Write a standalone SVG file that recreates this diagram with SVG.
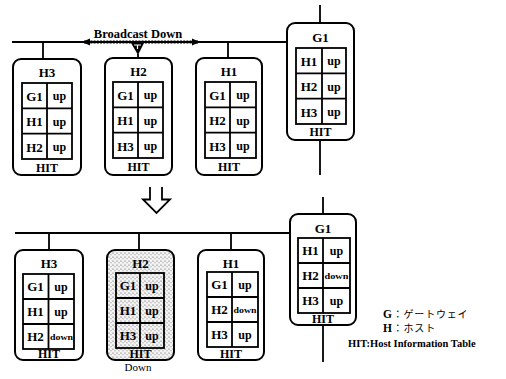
<svg xmlns="http://www.w3.org/2000/svg" width="506" height="379" viewBox="0 0 506 379">
<style>
.box{fill:#fff;stroke:#000;stroke-width:2}
.tbl{fill:none;stroke:#000;stroke-width:1.8}
.ln{fill:none;stroke:#000;stroke-width:1.8}
.t{font-family:"Liberation Serif",serif;font-weight:bold;font-size:13px;text-anchor:middle;fill:#000}
.s{font-family:"Liberation Serif",serif;font-weight:bold;font-size:12px;text-anchor:middle;fill:#000}
.dn{font-family:"Liberation Serif",serif;font-weight:bold;font-size:8.5px;fill:#000}
.lg{font-family:"Liberation Serif","Noto Sans CJK JP",serif;font-size:10px;fill:#000}
</style>
<defs>
<pattern id="dots" width="4" height="4" patternUnits="userSpaceOnUse">
<rect width="4" height="4" fill="#f4f4f4"/>
<circle cx="1" cy="1" r="0.6" fill="#444"/>
<circle cx="3" cy="2.8" r="0.5" fill="#666"/>
</pattern>
</defs>
<rect width="506" height="379" fill="#fff"/>

<g id="connectors">
<path class="ln" d="M12,42 H287"/>
<path class="ln" d="M43,42 V59"/>
<path class="ln" d="M228,42 V58"/>
<path class="ln" d="M320,5 V23 M320,140 V175"/>
<path d="M84,42 H198" stroke="#000" stroke-width="2.8" stroke-dasharray="2 1.2" fill="none"/>
<polygon points="82,42 90,38.5 90,45.5" fill="#000"/>
<polygon points="200,42 192,38.5 192,45.5" fill="#000"/>
<polygon points="131,43 144,43 138,55" fill="#000"/>
<path d="M134,45 H141 M137.5,45 V49" stroke="#fff" stroke-width="1.2"/>
<path class="ln" d="M138,54 V58"/>
<path d="M150,187 V199.5 H143 L156.5,213 L170,199.5 H162 V187" fill="none" stroke="#000" stroke-width="1.8"/>
<path class="ln" d="M15,233 H290"/>
<path class="ln" d="M49,233 V250"/>
<path class="ln" d="M139,233 V250"/>
<path class="ln" d="M231,233 V250"/>
<path class="ln" d="M323,197 V214 M323,325 V362"/>
</g>

<g id="top-H3">
<rect class="box" x="13" y="59" width="68" height="116" rx="8"/>
<text class="t" x="47" y="77">H3</text>
<rect class="tbl" x="22" y="83" width="50" height="76"/>
<path class="tbl" d="M47,83 V159 M22,108.3 H72 M22,133.7 H72"/>
<text class="t" x="34.5" y="100.5">G1</text><text class="s" x="59.5" y="100">up</text>
<text class="t" x="34.5" y="126">H1</text><text class="s" x="59.5" y="125.5">up</text>
<text class="t" x="34.5" y="151.5">H2</text><text class="s" x="59.5" y="151">up</text>
<text class="s" x="47" y="171.5">HIT</text>
</g>

<g id="top-H2">
<rect class="box" x="105" y="58" width="67" height="117" rx="8"/>
<text class="t" x="138.5" y="76">H2</text>
<rect class="tbl" x="113" y="82" width="50" height="76"/>
<path class="tbl" d="M138,82 V158 M113,107.3 H163 M113,132.7 H163"/>
<text class="t" x="125.5" y="99.5">G1</text><text class="s" x="150.5" y="99">up</text>
<text class="t" x="125.5" y="125">H1</text><text class="s" x="150.5" y="124.5">up</text>
<text class="t" x="125.5" y="150.5">H3</text><text class="s" x="150.5" y="150">up</text>
<text class="s" x="138.5" y="170.5">HIT</text>
</g>

<g id="top-H1">
<rect class="box" x="196" y="58" width="66" height="117" rx="8"/>
<text class="t" x="229" y="76">H1</text>
<rect class="tbl" x="205" y="82" width="51" height="76"/>
<path class="tbl" d="M230,82 V158 M205,107.3 H256 M205,132.7 H256"/>
<text class="t" x="217.5" y="99.5">G1</text><text class="s" x="243" y="99">up</text>
<text class="t" x="217.5" y="125">H2</text><text class="s" x="243" y="124.5">up</text>
<text class="t" x="217.5" y="150.5">H3</text><text class="s" x="243" y="150">up</text>
<text class="s" x="229" y="170.5">HIT</text>
</g>

<g id="top-G1">
<rect class="box" x="287" y="23" width="67" height="117" rx="8"/>
<text class="t" x="320.5" y="41.5">G1</text>
<rect class="tbl" x="296" y="48" width="50" height="76"/>
<path class="tbl" d="M322,48 V124 M296,73.3 H346 M296,98.7 H346"/>
<text class="t" x="309" y="65.5">H1</text><text class="s" x="334" y="65">up</text>
<text class="t" x="309" y="91">H2</text><text class="s" x="334" y="90.5">up</text>
<text class="t" x="309" y="116.5">H3</text><text class="s" x="334" y="116">up</text>
<text class="s" x="320.5" y="136">HIT</text>
</g>

<g id="label-broadcast">
<text class="t" x="138" y="38" style="font-size:12.5px">Broadcast Down</text>
</g>

<g id="bottom-H3">
<rect class="box" x="15" y="250" width="68" height="110" rx="8"/>
<text class="t" x="49" y="267.5">H3</text>
<rect class="tbl" x="23" y="274" width="51" height="75"/>
<path class="tbl" d="M48.5,274 V349 M23,299 H74 M23,324 H74"/>
<text class="t" x="35.5" y="291">G1</text><text class="s" x="61" y="290.5">up</text>
<text class="t" x="35.5" y="316">H1</text><text class="s" x="61" y="315.5">up</text>
<text class="t" x="35.5" y="341">H2</text><text class="dn" x="50" y="339.5" textLength="23" lengthAdjust="spacingAndGlyphs">down</text>
<text class="s" x="49" y="357.5">HIT</text>
</g>

<g id="bottom-H2">
<rect class="box" x="107" y="250" width="67" height="110" rx="8" style="fill:url(#dots)"/>
<text class="t" x="140.5" y="267.5">H2</text>
<rect class="tbl" x="116" y="273" width="48" height="75"/>
<path class="tbl" d="M140,273 V348 M116,298 H164 M116,323 H164"/>
<text class="t" x="128" y="290">G1</text><text class="s" x="152" y="289.5">up</text>
<text class="t" x="128" y="315">H1</text><text class="s" x="152" y="314.5">up</text>
<text class="t" x="128" y="340">H3</text><text class="s" x="152" y="339.5">up</text>
<text class="s" x="140.5" y="357.5">HIT</text>
</g>
<g id="label-down">
<text x="138" y="371" style="font-family:'Liberation Serif',serif;font-size:11px;text-anchor:middle">Down</text>
</g>

<g id="bottom-H1">
<rect class="box" x="198" y="250" width="66" height="110" rx="8"/>
<text class="t" x="231" y="267.5">H1</text>
<rect class="tbl" x="207" y="272" width="51" height="75"/>
<path class="tbl" d="M232,272 V347 M207,297 H258 M207,322 H258"/>
<text class="t" x="219.5" y="289">G1</text><text class="s" x="245" y="288.5">up</text>
<text class="t" x="219.5" y="314">H2</text><text class="dn" x="233.5" y="312.5" textLength="23" lengthAdjust="spacingAndGlyphs">down</text>
<text class="t" x="219.5" y="339">H3</text><text class="s" x="245" y="338.5">up</text>
<text class="s" x="231" y="357.5">HIT</text>
</g>

<g id="bottom-G1">
<rect class="box" x="290" y="214" width="66" height="111" rx="8"/>
<text class="t" x="323" y="232.5">G1</text>
<rect class="tbl" x="298" y="238" width="52" height="75"/>
<path class="tbl" d="M323,238 V313 M298,263 H350 M298,288 H350"/>
<text class="t" x="310.5" y="255">H1</text><text class="s" x="336.5" y="254.5">up</text>
<text class="t" x="310.5" y="280">H2</text><text class="dn" x="324.5" y="278.5" textLength="24" lengthAdjust="spacingAndGlyphs">down</text>
<text class="t" x="310.5" y="305">H3</text><text class="s" x="336.5" y="304.5">up</text>
<text class="s" x="323" y="322.5">HIT</text>
</g>

<g id="legend">
<text class="lg" x="383" y="318" style="letter-spacing:0.8px"><tspan style="font-weight:bold;font-size:11.5px">G</tspan>：ゲートウェイ</text>
<text class="lg" x="383" y="332" style="letter-spacing:0.8px"><tspan style="font-weight:bold;font-size:11.5px">H</tspan>：ホスト</text>
<text x="348" y="347" style="font-family:'Liberation Serif',serif;font-weight:bold;font-size:10.5px">HIT:Host Information Table</text>
</g>
</svg>
